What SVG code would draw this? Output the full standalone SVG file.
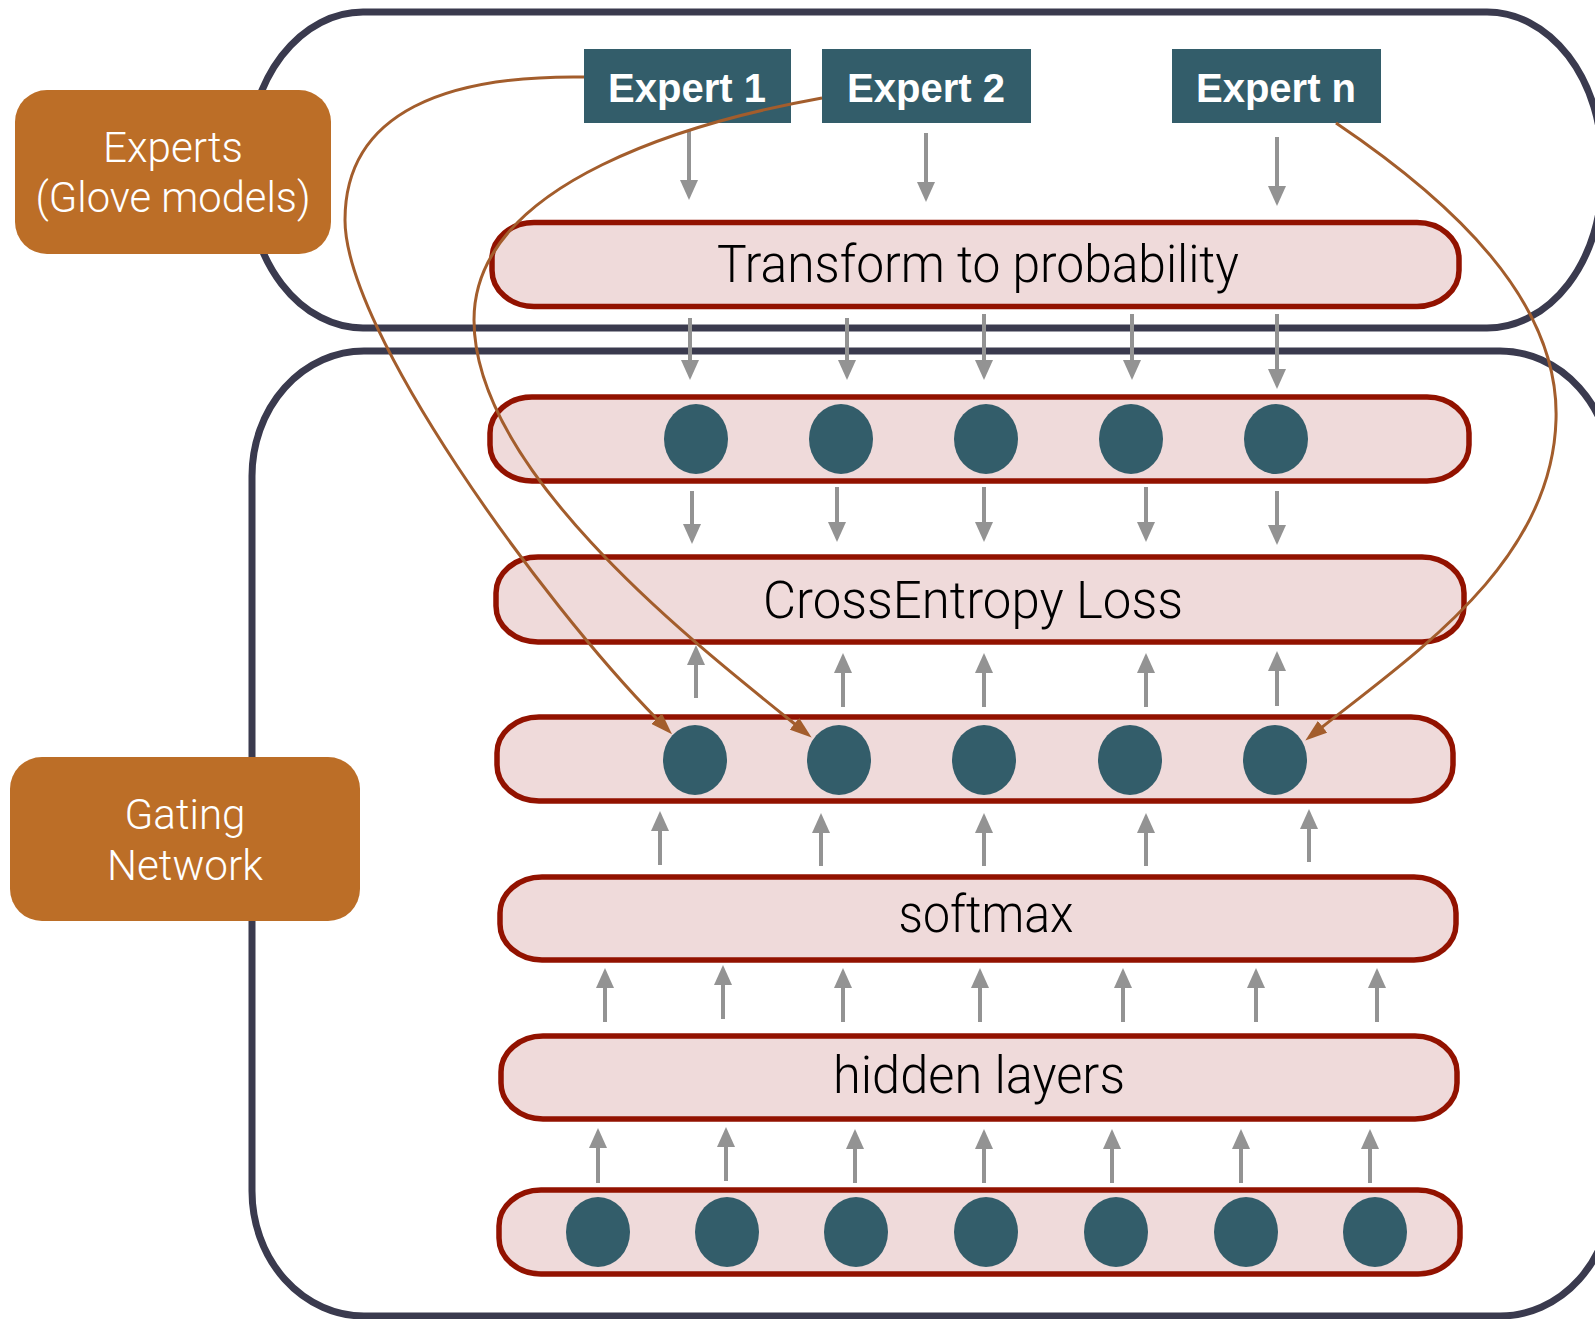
<svg xmlns="http://www.w3.org/2000/svg" width="1595" height="1319" viewBox="0 0 1595 1319">
  <style>
    .group { fill: none; stroke: #3a3a4e; stroke-width: 7; }
    .label { fill: #bc6e27; }
    .label-text { font-family: Roboto, "Liberation Sans", Arial, sans-serif; font-weight: 300; font-size: 42px; fill: #ffffff; text-anchor: middle; }
    .expert { fill: #335d6a; }
    .expert-text { font-family: "Liberation Sans", Arial, sans-serif; font-size: 40px; font-weight: bold; fill: #ffffff; text-anchor: middle; }
    .bar { fill: #efdada; stroke: #921200; stroke-width: 5.5; }
    .bar-text { font-family: Roboto, "Liberation Sans", Arial, sans-serif; font-weight: 300; font-size: 51px; fill: #000000; text-anchor: middle; }
    .unit { fill: #335d6a; }
    .flow { fill: none; stroke: #939393; stroke-width: 4; marker-end: url(#grayHead); }
    .route { fill: none; stroke: #a35d2c; stroke-width: 3; marker-end: url(#brownHead); }
  </style>
  <defs>
    <marker id="grayHead" markerUnits="userSpaceOnUse" markerWidth="20" markerHeight="18" refX="2" refY="9" orient="auto">
      <path d="M0,0 L20,9 L0,18 Z" fill="#939393"/>
    </marker>
    <marker id="brownHead" markerUnits="userSpaceOnUse" markerWidth="22" markerHeight="15" refX="2" refY="7.5" orient="auto">
      <path d="M0,0 L22,7.5 L0,15 Z" fill="#a35d2c"/>
    </marker>
  </defs>

  <rect width="1595" height="1319" fill="#ffffff"/>

  <!-- enclosing outlines -->
  <g id="experts-group">
    <rect class="group" x="248" y="12" width="1354" height="316" rx="115" ry="150"/>
  </g>
  <g id="gating-group">
    <rect class="group" x="252" y="351" width="1360" height="965" rx="112" ry="125"/>
  </g>

  <!-- side labels -->
  <g id="experts-label">
    <rect class="label" x="15" y="90" width="316" height="164" rx="32"/>
    <text class="label-text" x="173" y="162" textLength="140" lengthAdjust="spacingAndGlyphs">Experts</text>
    <text class="label-text" x="173" y="212" textLength="275" lengthAdjust="spacingAndGlyphs">(Glove models)</text>
  </g>
  <g id="gating-label">
    <rect class="label" x="10" y="757" width="350" height="164" rx="32"/>
    <text class="label-text" x="185" y="829" textLength="121" lengthAdjust="spacingAndGlyphs">Gating</text>
    <text class="label-text" x="185" y="880" textLength="156" lengthAdjust="spacingAndGlyphs">Network</text>
  </g>

  <!-- experts -->
  <g id="expert-1">
    <rect class="expert" x="584" y="49" width="207" height="74"/>
    <text class="expert-text" x="687" y="102">Expert 1</text>
  </g>
  <g id="expert-2">
    <rect class="expert" x="822" y="49" width="209" height="74"/>
    <text class="expert-text" x="926" y="102">Expert 2</text>
  </g>
  <g id="expert-n">
    <rect class="expert" x="1172" y="49" width="209" height="74"/>
    <text class="expert-text" x="1276" y="102">Expert n</text>
  </g>

  <!-- layers -->
  <g id="transform">
    <rect class="bar" x="492" y="222.5" width="967" height="84" rx="42" ry="36"/>
    <text class="bar-text" x="978" y="282" textLength="522" lengthAdjust="spacingAndGlyphs">Transform to probability</text>
  </g>
  <g id="expert-probs">
    <rect class="bar" x="490" y="397" width="979" height="84" rx="42" ry="36"/>
    <ellipse class="unit" cx="696" cy="439" rx="32" ry="35"/>
    <ellipse class="unit" cx="841" cy="439" rx="32" ry="35"/>
    <ellipse class="unit" cx="986" cy="439" rx="32" ry="35"/>
    <ellipse class="unit" cx="1131" cy="439" rx="32" ry="35"/>
    <ellipse class="unit" cx="1276" cy="439" rx="32" ry="35"/>
  </g>
  <g id="cross-entropy">
    <rect class="bar" x="496" y="557" width="968" height="85" rx="42" ry="36"/>
    <text class="bar-text" x="973" y="618" textLength="420" lengthAdjust="spacingAndGlyphs">CrossEntropy Loss</text>
  </g>
  <g id="gate-weights">
    <rect class="bar" x="497" y="717" width="956" height="84" rx="42" ry="36"/>
    <ellipse class="unit" cx="695" cy="760" rx="32" ry="35"/>
    <ellipse class="unit" cx="839" cy="760" rx="32" ry="35"/>
    <ellipse class="unit" cx="984" cy="760" rx="32" ry="35"/>
    <ellipse class="unit" cx="1130" cy="760" rx="32" ry="35"/>
    <ellipse class="unit" cx="1275" cy="760" rx="32" ry="35"/>
  </g>
  <g id="softmax">
    <rect class="bar" x="500" y="877" width="956" height="83" rx="42" ry="36"/>
    <text class="bar-text" x="986" y="932" textLength="175" lengthAdjust="spacingAndGlyphs">softmax</text>
  </g>
  <g id="hidden-layers">
    <rect class="bar" x="501" y="1036" width="956" height="83" rx="42" ry="36"/>
    <text class="bar-text" x="979" y="1093" textLength="292" lengthAdjust="spacingAndGlyphs">hidden layers</text>
  </g>
  <g id="inputs">
    <rect class="bar" x="499" y="1190" width="961" height="84" rx="42" ry="36"/>
    <ellipse class="unit" cx="598" cy="1232" rx="32" ry="35"/>
    <ellipse class="unit" cx="727" cy="1232" rx="32" ry="35"/>
    <ellipse class="unit" cx="856" cy="1232" rx="32" ry="35"/>
    <ellipse class="unit" cx="986" cy="1232" rx="32" ry="35"/>
    <ellipse class="unit" cx="1116" cy="1232" rx="32" ry="35"/>
    <ellipse class="unit" cx="1246" cy="1232" rx="32" ry="35"/>
    <ellipse class="unit" cx="1375" cy="1232" rx="32" ry="35"/>
  </g>

  <!-- connectors -->
  <g id="connectors">
    <!-- experts into transform -->
    <path class="flow" d="M689,130 V182"/>
    <path class="flow" d="M926,133 V184"/>
    <path class="flow" d="M1277,137 V188"/>
    <!-- transform into probabilities -->
    <path class="flow" d="M690,318 V362"/>
    <path class="flow" d="M847,318 V362"/>
    <path class="flow" d="M984,314 V362"/>
    <path class="flow" d="M1132,314 V362"/>
    <path class="flow" d="M1277,314 V371"/>
    <!-- probabilities into loss -->
    <path class="flow" d="M692,491 V526"/>
    <path class="flow" d="M837,487 V524"/>
    <path class="flow" d="M984,487 V524"/>
    <path class="flow" d="M1146,487 V524"/>
    <path class="flow" d="M1277,491 V527"/>
    <!-- gate weights into loss -->
    <path class="flow" d="M696,698 V663"/>
    <path class="flow" d="M843,707 V671"/>
    <path class="flow" d="M984,707 V671"/>
    <path class="flow" d="M1146,707 V671"/>
    <path class="flow" d="M1277,706 V669"/>
    <!-- softmax into gate weights -->
    <path class="flow" d="M660,865 V829"/>
    <path class="flow" d="M821,866 V831"/>
    <path class="flow" d="M984,866 V831"/>
    <path class="flow" d="M1146,866 V831"/>
    <path class="flow" d="M1309,862 V827"/>
    <!-- hidden layers into softmax -->
    <path class="flow" d="M605,1022 V986"/>
    <path class="flow" d="M723,1019 V983"/>
    <path class="flow" d="M843,1022 V986"/>
    <path class="flow" d="M980,1022 V986"/>
    <path class="flow" d="M1123,1022 V986"/>
    <path class="flow" d="M1256,1022 V986"/>
    <path class="flow" d="M1377,1022 V986"/>
    <!-- inputs into hidden layers -->
    <path class="flow" d="M598,1183 V1146"/>
    <path class="flow" d="M726,1181 V1145"/>
    <path class="flow" d="M855,1183 V1147"/>
    <path class="flow" d="M984,1183 V1147"/>
    <path class="flow" d="M1112,1183 V1147"/>
    <path class="flow" d="M1241,1183 V1147"/>
    <path class="flow" d="M1370,1183 V1147"/>

    <!-- expert outputs routed to gate units -->
    <path class="route" d="M584,77 C450,75 345,110 345,220 C345,330 540,600 658,720"/>
    <path class="route" d="M822,98 C700,120 474,180 474,320 C474,470 690,640 796,725"/>
    <path class="route" d="M1336,123 C1450,200 1560,300 1556,420 C1552,560 1420,650 1321,728"/>
  </g>
</svg>
